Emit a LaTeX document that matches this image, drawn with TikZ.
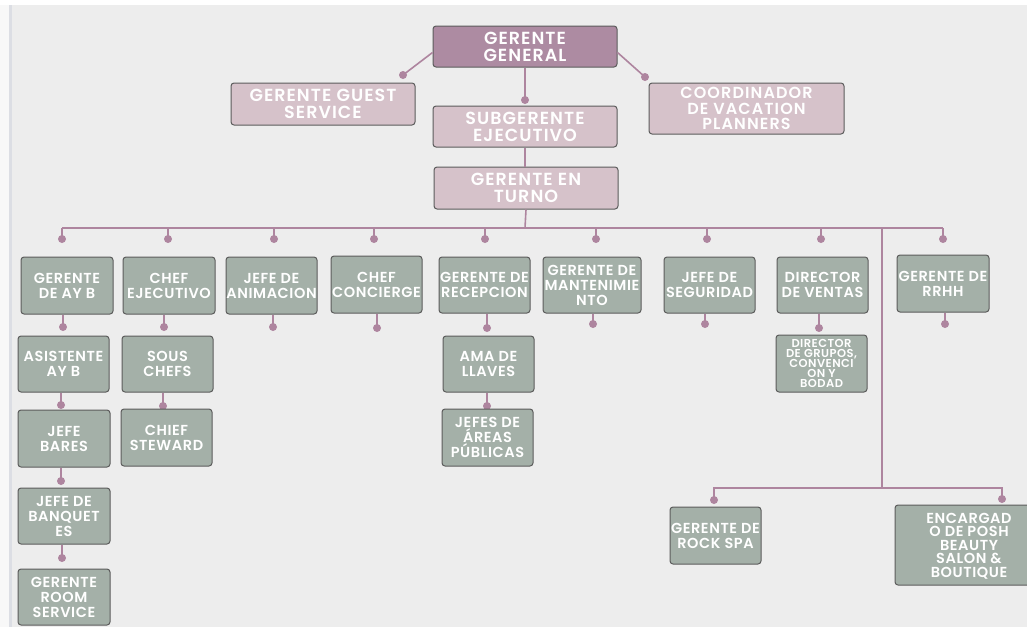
\documentclass[tikz,border=0pt]{standalone}
\usepackage{fontspec}
\setmainfont{Poppins}[BoldFont={Poppins SemiBold}]
\usetikzlibrary{calc}
\definecolor{bg}{HTML}{EDEDED}
\definecolor{strip}{HTML}{DCDEE4}
\definecolor{topc}{HTML}{AD8BA2}
\definecolor{lightm}{HTML}{D6C2CA}
\definecolor{grayg}{HTML}{A4B0A8}
\definecolor{edge}{HTML}{5C5C5C}
\definecolor{linec}{HTML}{AE859F}
\tikzset{
  basebox/.style={rectangle, rounded corners=3pt, draw=edge, line width=1pt, inner sep=0pt},
  topbox/.style={basebox, fill=topc},
  mbox/.style={basebox, fill=lightm},
  gbox/.style={basebox, fill=grayg},
  txt/.style={text=white, align=center, inner sep=0pt, font=\bfseries\fontsize{14.5}{15}\selectfont\addfontfeature{LetterSpace=4}},
  bigtxt/.style={txt, font=\bfseries\fontsize{17.5}{17}\selectfont\addfontfeature{LetterSpace=6}},
  coordtxt/.style={txt, font=\bfseries\fontsize{16}{15.5}\selectfont\addfontfeature{LetterSpace=7}},
  smalltxt/.style={txt, font=\bfseries\fontsize{11.5}{10}\selectfont\addfontfeature{LetterSpace=4}},
  enctxt/.style={txt, font=\bfseries\fontsize{14.5}{13.5}\selectfont\addfontfeature{LetterSpace=4}},
  conn/.style={draw=linec, line width=1.6pt},
}
\newcommand\orgbox[8][txt]{%
  \node[#2, minimum width={#5-#3}, minimum height={#6-#4}] (#7) at ({(#3+#5)/2},{-(#4+#6)/2}) {};
  \node[#1] (#7T) at (#7) {#8};
}
\newcommand\orgdot[1]{\fill[linec] (#1) circle (4);}
\begin{document}
\begin{tikzpicture}[x=1pt,y=1pt]
\useasboundingbox (0,0) rectangle (1027,-627);
\fill[bg] (0,0) rectangle (1027,-627);
\fill[white] (0,0) rectangle (1027,-5);
\fill[white!60!bg] (0,-5) rectangle (9,-627);
\fill[strip] (9,-5) rectangle (12,-627);

% top level
\orgbox[bigtxt]{topbox}{433}{26}{617}{67}{gg}{GERENTE\\GENERAL}
\orgbox[bigtxt]{mbox}{231}{83}{415}{125}{guest}{GERENTE GUEST\\SERVICE}
\orgbox[bigtxt]{mbox}{433}{106}{617}{147}{sub}{SUBGERENTE\\EJECUTIVO}
\orgbox[bigtxt]{mbox}{434}{167}{618}{209}{turno}{GERENTE EN\\TURNO}
\orgbox[coordtxt]{mbox}{649}{83}{844}{134}{coord}{COORDINADOR\\DE VACATION\\PLANNERS}

\coordinate (dguest) at (403,-75);
\coordinate (dcoord) at (645,-77);
\coordinate (dsub) at (525,-100);
\draw[conn] ($(gg.west)+(0,-6)$) -- (dguest);
\draw[conn] ($(gg.east)+(0,-6)$) -- (dcoord);
\draw[conn] (gg.south) -- (dsub);
\draw[conn] (sub.south) -- (turno.north -| sub.south);
\orgdot{dguest}\orgdot{dcoord}\orgdot{dsub}

% second row
\orgbox{gbox}{21}{257}{113}{314}{ayb}{GERENTE\\DE AY B}
\orgbox{gbox}{123}{257}{215}{314}{chefej}{CHEF\\EJECUTIVO}
\orgbox{gbox}{226}{257}{317}{314}{anim}{JEFE DE\\ANIMACION}
\orgbox{gbox}{331}{256}{422}{313}{conc}{CHEF\\CONCIERGE}
\orgbox{gbox}{439}{257}{530}{313}{recep}{GERENTE DE\\RECEPCION}
\orgbox{gbox}{543}{257}{641}{313}{mant}{GERENTE DE\\MANTENIMIE\\NTO}
\orgbox{gbox}{664}{257}{755}{313}{seg}{JEFE DE\\SEGURIDAD}
\orgbox{gbox}{777}{257}{868}{313}{ventas}{DIRECTOR\\DE VENTAS}
\orgbox{gbox}{897}{255}{989}{312}{rrhh}{GERENTE DE\\RRHH}

% bus
\coordinate (bus) at (525,-228);
\draw[conn] (turno.south) -- (bus);
\foreach \i/\x in {1/62,2/168,3/274,4/374,5/485,6/596,7/707,8/821,9/943}{
  \coordinate (b\i) at (\x,-228);
  \coordinate (bd\i) at (\x,-239);
}
\draw[conn] (b1) -- (b9);
\foreach \i in {1,...,9}{ \draw[conn] (b\i) -- (bd\i); \orgdot{bd\i} }

% spa branch
\coordinate (sv) at (882,-228);
\coordinate (sh) at (882,-488);
\coordinate (sl) at (714,-488);
\coordinate (sr) at (1002,-488);
\coordinate (dspa) at (714,-500);
\coordinate (denc) at (1002,-499);
\draw[conn] (sv) -- (sh);
\draw[conn] (dspa) -- (sl) -- (sr) -- (denc);
\orgdot{dspa}\orgdot{denc}
\orgbox{gbox}{670}{507}{761}{564}{spa}{GERENTE DE\\ROCK SPA}
\orgbox{gbox}{895}{505}{1035}{585}{enc}{}
\node[enctxt] (encT2) at (969,-546) {ENCARGAD\\O DE POSH\\BEAUTY\\SALON \&\\BOUTIQUE};

% dots below row 2
\foreach \n/\x/\y in {ayb/63/327,chefej/164/327,anim/273/327,conc/377/328,recep/487/328,mant/593/324,seg/705/324,ventas/819/328,rrhh/945/324}{
  \coordinate (d\n) at (\x,-\y);
  \draw[conn] (d\n |- \n.south) -- (d\n);
  \orgdot{d\n}
}

% third row
\orgbox{gbox}{18}{336}{109}{392}{asist}{ASISTENTE\\AY B}
\orgbox{gbox}{122}{336}{213}{392}{sous}{SOUS\\CHEFS}
\orgbox{gbox}{443}{336}{534}{392}{ama}{AMA DE\\LLAVES}
\orgbox[smalltxt]{gbox}{776}{335}{867}{392}{grupos}{DIRECTOR\\DE GRUPOS,\\CONVENCI\\ON Y\\BODAD}

\foreach \n/\x/\y in {asist/61/405,sous/163/406,ama/487/406}{
  \coordinate (d\n) at (\x,-\y);
  \draw[conn] (d\n |- \n.south) -- (d\n);
  \orgdot{d\n}
}

% fourth row
\orgbox{gbox}{18}{410}{110}{467}{bares}{JEFE\\BARES}
\orgbox{gbox}{121}{409}{212}{466}{steward}{CHIEF\\STEWARD}
\orgbox{gbox}{442}{409}{533}{466}{areas}{JEFES DE\\ÁREAS\\PÚBLICAS}

\coordinate (dbares) at (61,-481);
\draw[conn] (dbares |- bares.south) -- (dbares);
\orgdot{dbares}
\orgbox{gbox}{18}{488}{110}{544}{banq}{JEFE DE\\BANQUET\\ES}
\coordinate (dbanq) at (62,-558);
\draw[conn] (dbanq |- banq.south) -- (dbanq);
\orgdot{dbanq}
\orgbox{gbox}{18}{569}{110}{625}{room}{GERENTE\\ROOM\\SERVICE}
\end{tikzpicture}
\end{document}
